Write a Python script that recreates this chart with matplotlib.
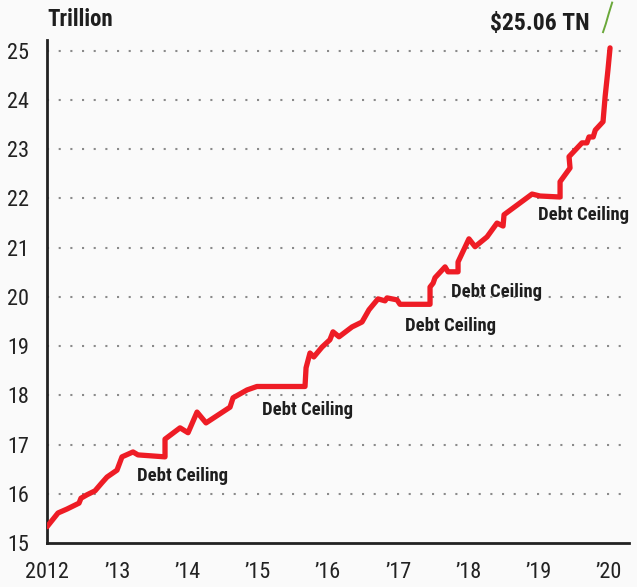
import matplotlib
matplotlib.use("Agg")
import os
import matplotlib.pyplot as plt
from matplotlib import font_manager
from matplotlib.font_manager import FontProperties

files = font_manager.findSystemFonts() + [f.fname for f in font_manager.fontManager.ttflist]
files = list(dict.fromkeys(files))


def find(cands):
    for c in cands:
        for f in files:
            if os.path.basename(f).lower() == c.lower():
                return f
    return None


reg_file = find(["RobotoCondensed-Regular.ttf", "LiberationSansNarrow-Regular.ttf",
                 "DejaVuSansCondensed.ttf"])
bold_file = find(["RobotoCondensed-Bold.ttf", "LiberationSansNarrow-Bold.ttf",
                  "DejaVuSansCondensed-Bold.ttf"])


def fp(bold, size):
    f = bold_file if bold else reg_file
    if f:
        return FontProperties(fname=f, size=size)
    return FontProperties(family="DejaVu Sans", weight="bold" if bold else "normal",
                          size=size, stretch="condensed")


# Debt level (trillion USD) by decimal year
years = [2012.00, 2012.157, 2012.285, 2012.456, 2012.484, 2012.57, 2012.684, 2012.78, 2012.855,
         2012.997, 2013.068, 2013.225, 2013.296, 2013.681, 2013.681, 2013.895, 2014.009, 2014.137,
         2014.265, 2014.607, 2014.65, 2014.85, 2014.99, 2015.675, 2015.69, 2015.746, 2015.80,
         2015.917, 2016.03, 2016.074, 2016.16, 2016.345, 2016.487, 2016.587, 2016.715, 2016.815,
         2016.843, 2016.986, 2017.028, 2017.456, 2017.456, 2017.50, 2017.527, 2017.67, 2017.712,
         2017.855, 2017.855, 2018.01, 2018.097, 2018.268, 2018.41, 2018.496, 2018.51, 2018.909,
         2019.023, 2019.308, 2019.308, 2019.45, 2019.436, 2019.62, 2019.69, 2019.72, 2019.78,
         2019.81, 2019.92, 2019.95, 2019.99, 2020.02]
debt = [15.33, 15.61, 15.69, 15.81, 15.91, 15.98, 16.06, 16.22, 16.34,
        16.48, 16.75, 16.85, 16.79, 16.75, 17.11, 17.34, 17.24, 17.66,
        17.44, 17.76, 17.95, 18.11, 18.18, 18.18, 18.56, 18.86, 18.78,
        18.98, 19.13, 19.29, 19.19, 19.39, 19.49, 19.74, 19.96, 19.92,
        19.98, 19.94, 19.85, 19.85, 20.20, 20.28, 20.39, 20.61, 20.51,
        20.51, 20.71, 21.18, 21.02, 21.22, 21.50, 21.44, 21.67, 22.09,
        22.05, 22.03, 22.34, 22.62, 22.85, 23.13, 23.13, 23.25, 23.25,
        23.39, 23.56, 24.07, 24.61, 25.06]

ann_text = "Debt Ceiling"
ann_x = [2013.28, 2015.06, 2017.10, 2017.75, 2018.99]
ann_y = [16.36, 17.70, 19.41, 20.10, 21.67]

y_ticks = list(range(15, 26))
x_ticks = [2012, 2013, 2014, 2015, 2016, 2017, 2018, 2019, 2020]
x_labels = ["2012", "\u201913", "\u201914", "\u201915", "\u201916", "\u201917", "\u201918", "\u201919", "\u201920"]

BG = "#fafafa"
fig = plt.figure(figsize=(6.37, 5.87), dpi=100, facecolor=BG)
ax = fig.add_axes([47/637, 44/587, 582/637, (543-40)/587])
ax.set_facecolor(BG)

ax.set_xlim(2012, 2020.29)
ax.set_ylim(15, 25.22)

for v in y_ticks[1:]:
    ax.axhline(v, color="#8a8a8a", lw=1.5, ls=(0, (1, 4.6)), zorder=1)

ax.plot(years, debt, color="#ee1c25", lw=3.8, solid_capstyle="round",
        solid_joinstyle="round", zorder=3)

for x, y in zip(ann_x, ann_y):
    ax.text(x, y, ann_text, fontproperties=fp(True, 13.4), color="#1e1e1e",
            ha="left", va="center", zorder=4)

ax.text(2019.735, 25.55, "$25.06 TN", fontproperties=fp(True, 17), color="#1e1e1e",
        ha="right", va="center", clip_on=False)
# small green flourish above the last point
ax.plot([2019.92, 2019.96, 2020.0, 2020.05], [25.38, 25.55, 25.75, 25.98],
        color="#6aa83a", lw=1.4, clip_on=False)

ax.set_yticks(y_ticks)
ax.set_yticklabels([str(v) for v in y_ticks], fontproperties=fp(False, 16))
ax.set_xticks(x_ticks)
ax.set_xticklabels(x_labels, fontproperties=fp(False, 16))
ax.tick_params(axis="both", length=0, colors="#222222")
ax.tick_params(axis="y", pad=13)
ax.tick_params(axis="x", pad=14)

for s in ["top", "right"]:
    ax.spines[s].set_visible(False)
for s in ["left", "bottom"]:
    ax.spines[s].set_color("#222222")
    ax.spines[s].set_linewidth(2)

fig.text(47/637, 1 - 20/587, "Trillion", fontproperties=fp(True, 16.5), color="#1e1e1e",
         ha="left", va="center")

fig.savefig("out.png", dpi=100, facecolor=BG)
